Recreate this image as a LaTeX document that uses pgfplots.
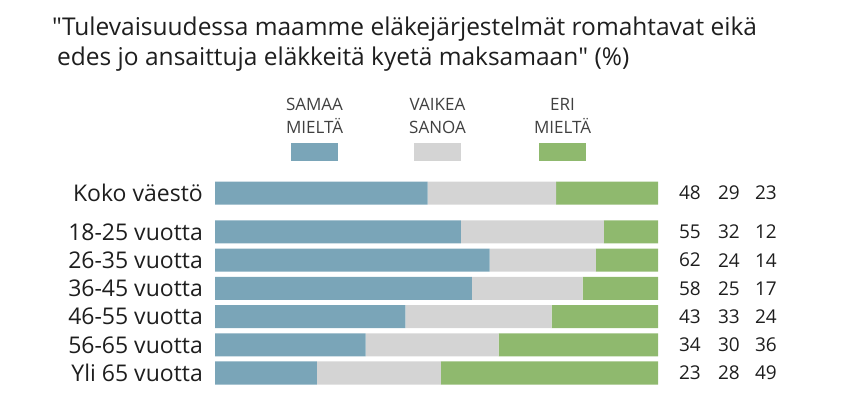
\documentclass[border=0pt]{standalone}
\usepackage{pgfplots}
\pgfplotsset{compat=1.18}
\usepackage{fontspec}
\setmainfont{Open Sans}
\newfontfamily\qf{Open Sans}
\definecolor{cA}{RGB}{122,165,184}
\definecolor{cB}{RGB}{212,212,212}
\definecolor{cC}{RGB}{143,185,110}
\definecolor{txt}{RGB}{30,30,30}
\definecolor{leg}{RGB}{64,64,64}
\begin{document}
\begin{tikzpicture}
\path (0bp,0bp) rectangle (847bp,-398bp);
% title
\node[anchor=base west, inner sep=0pt, text=txt, font=\fontsize{24.5bp}{29bp}\selectfont] at (52bp,-35bp) {{\qf"}Tulevaisuudessa maamme eläkejärjestelmät romahtavat eikä};
\node[anchor=base west, inner sep=0pt, text=txt, font=\fontsize{24.5bp}{29bp}\selectfont] at (57bp,-65bp) {edes jo ansaittuja eläkkeitä kyetä maksamaan{\qf"} (\%)};
% legend
\foreach \cx/\la/\lb/\c in {314.5/SAMAA/MIELTÄ/cA, 437.5/VAIKEA/SANOA/cB, 562.5/ERI/MIELTÄ/cC}{
  \node[anchor=base, inner sep=0pt, text=leg, font=\fontsize{17bp}{19bp}\selectfont] at (\cx bp,-110bp) {\la};
  \node[anchor=base, inner sep=0pt, text=leg, font=\fontsize{17bp}{19bp}\selectfont] at (\cx bp,-133bp) {\lb};
  \fill[\c] (\cx bp-23.5bp,-143bp) rectangle (\cx bp+23.5bp,-161bp);
}
\begin{axis}[
  at={(215bp,-387.1bp)}, anchor=south west,
  width=443bp, height=208.7bp, scale only axis,
  xmin=0, xmax=100, ymin=-0.5, ymax=6.9,
  xbar stacked, bar width=0.816,
  axis line style={draw=none}, major tick length=0pt,
  xtick=\empty,
  ytick={0,1,2,3,4,5,6.38},
  yticklabels={Yli 65 vuotta,56-65 vuotta,46-55 vuotta,36-45 vuotta,26-35 vuotta,18-25 vuotta,Koko väestö},
  yticklabel style={font=\fontsize{23bp}{27bp}\selectfont, text=txt, inner sep=0pt, xshift=-12bp},
  clip=false,
]
\addplot[fill=cA, draw=none] coordinates {(48,6.38) (55.5,5) (62,4) (58,3) (43,2) (34,1) (23,0)};
\addplot[fill=cB, draw=none] coordinates {(29,6.38) (32.3,5) (24,4) (25,3) (33,2) (30,1) (28,0)};
\addplot[fill=cC, draw=none] coordinates {(23,6.38) (12.2,5) (14,4) (17,3) (24,2) (36,1) (49,0)};
\end{axis}
% value labels
\foreach \yy/\a/\b/\c in {193.1/48/29/23, 232.0/55/32/12, 260.2/62/24/14, 288.4/58/25/17, 316.6/43/33/24, 344.8/34/30/36, 373.0/23/28/49}{
  \node[anchor=east, inner sep=0pt, text=txt, font=\fontsize{19bp}{21bp}\selectfont] at (701bp,-\yy bp) {\a};
  \node[anchor=east, inner sep=0pt, text=txt, font=\fontsize{19bp}{21bp}\selectfont] at (740bp,-\yy bp) {\b};
  \node[anchor=east, inner sep=0pt, text=txt, font=\fontsize{19bp}{21bp}\selectfont] at (777bp,-\yy bp) {\c};
}
\end{tikzpicture}
\end{document}
